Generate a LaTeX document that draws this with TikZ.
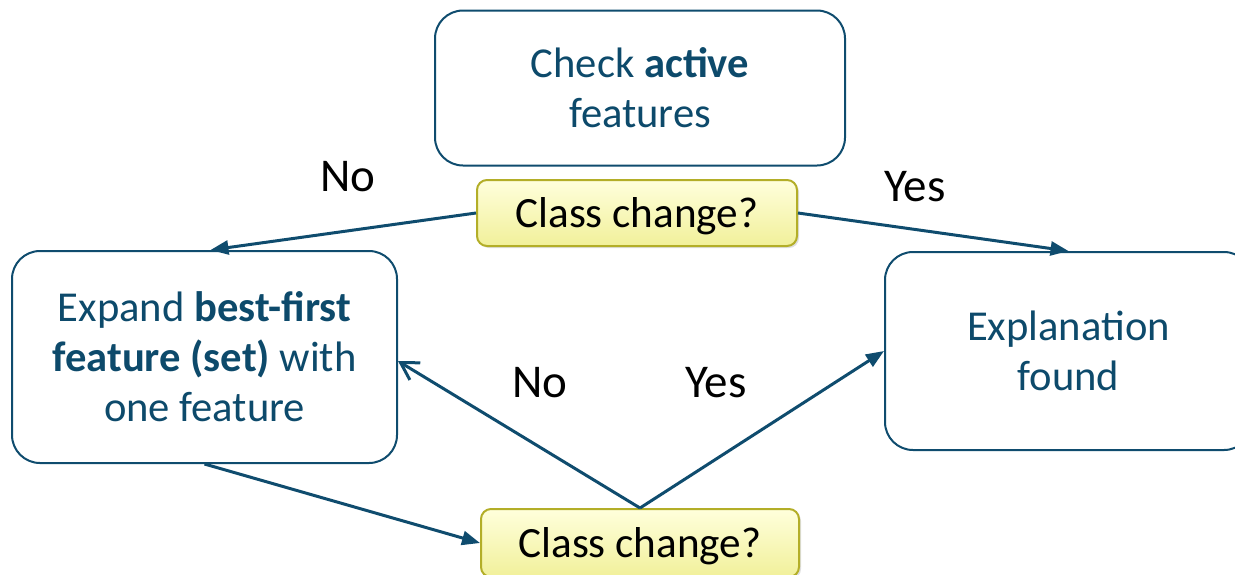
\documentclass[tikz,border=0pt]{standalone}
\usepackage{fontspec}
\setmainfont{Carlito}
\usetikzlibrary{arrows.meta,shadows}
\definecolor{ink}{HTML}{0D4A6B}
\definecolor{edge}{HTML}{0F4C6E}
\definecolor{qborder}{HTML}{B3AE28}
\definecolor{qtop}{HTML}{FFFFDC}
\definecolor{qbot}{HTML}{F1F09A}
\tikzset{
  stepbox/.style={draw=edge, line width=1pt, rounded corners=14pt, fill=white,
    text=ink, align=center, inner sep=0pt,
    font=\fontsize{21.3}{25}\selectfont},
  question/.style={draw=qborder, line width=1pt, rounded corners=5pt,
    top color=qtop, bottom color=qbot, text=black, inner sep=0pt,
    minimum height=33pt, minimum width=160pt,
    text height=19pt, text depth=4.4pt,
    drop shadow={shadow xshift=1pt, shadow yshift=-1pt, opacity=0.25},
    font=\fontsize{21.6}{25}\selectfont},
  answer/.style={text=black, font=\fontsize{23.5}{28}\selectfont},
  flow/.style={draw=edge, line width=1.5pt, -{Triangle[length=9pt,width=7pt]}},
  back/.style={draw=edge, line width=1.5pt, -{Straight Barb[length=8.5pt,width=10pt,line width=1.5pt]}}
}
\begin{document}
\begin{tikzpicture}[x=0.5pt, y=-0.5pt]
\useasboundingbox (0,0) rectangle (1235,574);

\node[stepbox, minimum width=205pt, minimum height=77.5pt] (check) at (640,88)
  {Check \textbf{active}\\features};
\node[stepbox, minimum width=192.5pt, minimum height=106pt] (expand) at (204.5,357)
  {Expand \textbf{best-first}\\\textbf{feature (set)} with\\one feature};
\node[stepbox, minimum width=183.5pt, minimum height=99pt] (found) at (1068.5,351)
  {Explanation\\found};

\node[question] (q1) at (637,213) {Class change?};
\node[question, minimum width=159pt, minimum height=34pt] (q2) at (640,543) {Class change?};

\node[answer] (no1) at (348,177) {No};
\node[answer] (yes1) at (915,187) {Yes};
\node[answer] (no2) at (540,383) {No};
\node[answer] (yes2) at (716,383) {Yes};

\draw[flow] (q1.west) -- ([xshift=3pt]expand.north);
\draw[flow] (q1.east) -- (found.north);
\draw[flow] (expand.south) -- (q2.west);
\draw[back] (q2.north) -- ([yshift=-2pt]expand.east);
\draw[flow] (q2.north) -- (found.west);
\end{tikzpicture}
\end{document}
